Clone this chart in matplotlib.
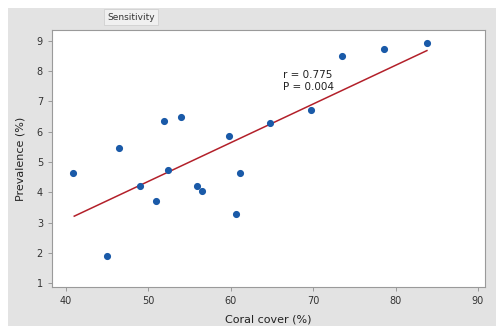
import matplotlib
matplotlib.use("Agg")
import matplotlib.pyplot as plt
from matplotlib.patches import Rectangle
import numpy as np

# data
coral_cover = [40.85, 44.98, 46.4, 48.98, 50.9, 51.9, 52.4, 54.0, 55.9, 56.5,
               59.8, 60.6, 61.1, 64.8, 69.7, 73.5, 78.6, 83.8]
prevalence = [4.64, 1.89, 5.46, 4.21, 3.71, 6.36, 4.74, 6.49, 4.2, 4.04,
              5.86, 3.28, 4.64, 6.29, 6.72, 8.5, 8.74, 8.93]
fit_x = [41.0, 83.8]
fit_y = [3.21, 8.68]
x_ticks = [40, 50, 60, 70, 80, 90]
y_ticks = [1, 2, 3, 4, 5, 6, 7, 8, 9]

W, H = 496, 326
fig = plt.figure(figsize=(W / 100, H / 100), dpi=100)
fig.patch.set_facecolor("white")
fig.patches.append(Rectangle((8 / W, 0), 1, (H - 8) / H, transform=fig.transFigure,
                             facecolor="#e3e3e3", edgecolor="none", zorder=-10))

ax = fig.add_axes([52 / W, 1 - 287 / H, (485 - 52) / W, (287 - 30) / H])
ax.set_facecolor("white")
ax.scatter(coral_cover, prevalence, s=17, color="#1a5aa8", zorder=3)
ax.plot(fit_x, fit_y, color="#b3202a", lw=1.1, zorder=2)

ax.set_xlim(38.3, 90.85)
ax.set_ylim(0.87, 9.36)
ax.set_xticks(x_ticks)
ax.set_yticks(y_ticks)
for s in ax.spines.values():
    s.set_color("#9a9a9a")
    s.set_linewidth(0.8)
ax.tick_params(colors="#9a9a9a", labelcolor="#333333", labelsize=7, length=3, width=0.7)

ax.set_xlabel("Coral cover (%)", fontsize=8, color="#222222", labelpad=6)
ax.set_ylabel("Prevalence (%)", fontsize=8, color="#222222", labelpad=8)

ax.text(66.3, 7.3, "r = 0.775\nP = 0.004", fontsize=7.5, color="#222222",
        linespacing=1.3, va="bottom")

fig.text(131 / W, 1 - 17 / H, "Sensitivity", fontsize=6.5, color="#333333",
         ha="center", va="center",
         bbox=dict(boxstyle="square,pad=0.35", facecolor="#f0f0f0", edgecolor="#d0d0d0", lw=0.6))

fig.savefig("out.png", dpi=100)
